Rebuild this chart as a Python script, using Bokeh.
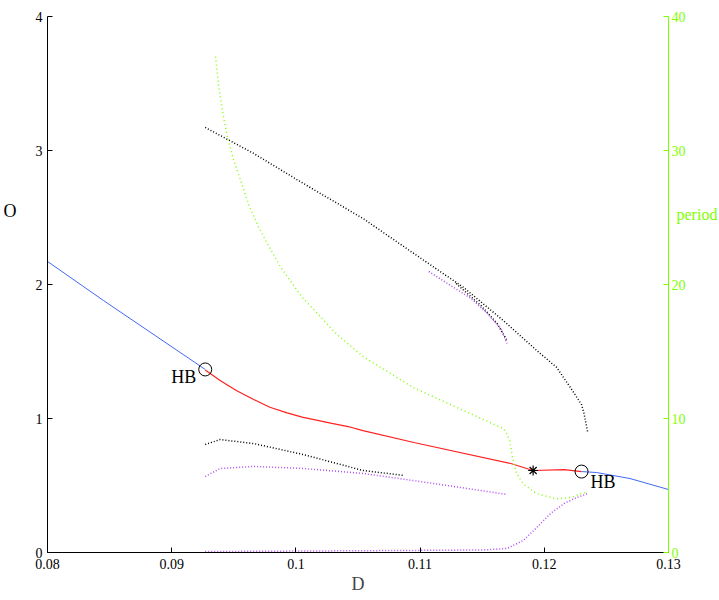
from bokeh.plotting import figure
from bokeh.models import Range1d, LinearAxis, Label, FixedTicker
from bokeh.embed import file_html
from bokeh.resources import INLINE

# ---- data ----
# equilibrium branches
blue1_D = [0.0800, 0.0845, 0.0927]
blue1_O = [2.172, 1.881, 1.366]
red_D = [0.0927, 0.0939, 0.0952, 0.0966, 0.0979, 0.0993, 0.1005, 0.1029, 0.1042, 0.1054,
         0.1095, 0.1173, 0.1191, 0.1216, 0.1230]
red_O = [1.362, 1.284, 1.209, 1.142, 1.084, 1.042, 1.010, 0.963, 0.940, 0.910,
         0.821, 0.664, 0.612, 0.619, 0.604]
blue2_D = [0.1230, 0.1242, 0.1269, 0.1300]
blue2_O = [0.604, 0.597, 0.552, 0.470]

# periodic orbit max/min (black)
blk_up_D = [0.0927, 0.0966, 0.1006, 0.1054, 0.1095, 0.1135, 0.1167, 0.1194, 0.1210, 0.1221, 0.1230, 0.1232, 0.1235]
blk_up_O = [3.172, 2.978, 2.754, 2.493, 2.231, 1.978, 1.731, 1.507, 1.381, 1.231, 1.104, 1.037, 0.896]
blk_up2_D = [0.1129, 0.1149, 0.1162, 0.1170]
blk_up2_O = [2.007, 1.843, 1.709, 1.582]
blk_lo_D = [0.0927, 0.0939, 0.0966, 0.1006, 0.1054, 0.1087]
blk_lo_O = [0.806, 0.843, 0.813, 0.731, 0.612, 0.575]

# periodic orbit (purple)
pur_up_D = [0.1107, 0.1127, 0.1141, 0.1154, 0.1165, 0.1170]
pur_up_O = [2.097, 1.978, 1.896, 1.784, 1.672, 1.560]
pur_mid_D = [0.0927, 0.0939, 0.0966, 0.1006, 0.1054, 0.1111, 0.1170]
pur_mid_O = [0.567, 0.627, 0.642, 0.627, 0.590, 0.515, 0.433]
pur_lo_D = [0.0927, 0.1087, 0.1151, 0.1170, 0.1183, 0.1194, 0.1205, 0.1216, 0.1226, 0.1235]
pur_lo_O = [0.007, 0.015, 0.019, 0.030, 0.090, 0.187, 0.291, 0.366, 0.410, 0.440]

# period (green, right axis)
per_D = [0.09353, 0.09377, 0.09401, 0.09425, 0.09449, 0.09498, 0.09554, 0.09626, 0.09699,
         0.09779, 0.09876, 0.10045, 0.10327, 0.10544, 0.10947, 0.11349, 0.11671, 0.11696,
         0.11720, 0.11744, 0.11776, 0.11833, 0.11937, 0.12098, 0.12211, 0.12300, 0.12348]
per_P = [37.0, 34.9, 33.4, 32.1, 31.0, 29.3, 27.8, 25.8, 24.3,
         22.9, 21.3, 19.1, 16.3, 14.6, 12.3, 10.6, 9.25, 8.9,
         8.4, 7.1, 5.9, 5.1, 4.4, 4.0, 4.1, 4.4, 4.5]

# special points
hb_D = [0.0927, 0.1230]
hb_O = [1.366, 0.604]
star_D = [0.1191]
star_O = [0.612]

x_ticks = [0.08, 0.09, 0.1, 0.11, 0.12, 0.13]
x_tick_labels = ["0.08", "0.09", "0.1", "0.11", "0.12", "0.13"]
y_ticks = [0, 1, 2, 3, 4]
p_ticks = [0, 10, 20, 30, 40]

FONT = "Liberation Serif"
GREEN = "#80ff00"
PURPLE = "#b04cf4"

p = figure(frame_width=621, frame_height=536, output_backend="svg", toolbar_location=None,
           x_range=Range1d(0.08, 0.13), y_range=Range1d(0, 4),
           min_border_left=44, min_border_right=0, min_border_top=16, min_border_bottom=10)
p.outline_line_color = None
p.grid.visible = False
p.background_fill_color = "white"
p.border_fill_color = "white"

def style_axis(ax, color="black", size="14px"):
    ax.major_tick_in = 5
    ax.major_tick_out = 0
    ax.minor_tick_line_color = None
    ax.major_label_text_font = FONT
    ax.major_label_text_font_size = size
    ax.major_label_text_color = color
    ax.axis_line_color = color
    ax.major_tick_line_color = color

style_axis(p.xaxis[0])
style_axis(p.yaxis[0])

p.xaxis.ticker = x_ticks
p.xaxis.major_label_overrides = dict(zip(x_ticks, x_tick_labels))
p.xaxis.major_label_standoff = 6
p.xaxis.axis_label = "D"
p.xaxis.axis_label_text_font = FONT
p.xaxis.axis_label_text_font_style = "normal"
p.xaxis.axis_label_text_font_size = "18px"
p.xaxis.axis_label_standoff = 2
p.yaxis.ticker = y_ticks
p.yaxis.major_label_standoff = 5

# horizontal left label "O" drawn as a lone tick label of an extra axis
o_pos = 2.545
lax = LinearAxis(ticker=FixedTicker(ticks=[o_pos]), major_label_overrides={o_pos: "O"})
lax.axis_line_color = None
lax.major_tick_line_color = None
lax.minor_tick_line_color = None
lax.major_label_text_font = FONT
lax.major_label_text_font_size = "18px"
lax.major_label_text_color = "black"
lax.major_label_standoff = 10
p.add_layout(lax, "left")

p.extra_y_ranges = {"period": Range1d(0, 40)}
rax = LinearAxis(y_range_name="period", ticker=p_ticks)
style_axis(rax, GREEN)
rax.major_label_standoff = 3
p.add_layout(rax, "right")

per_pos = 25.2
rlab = LinearAxis(y_range_name="period", ticker=FixedTicker(ticks=[per_pos]),
                  major_label_overrides={per_pos: "period"})
rlab.axis_line_color = None
rlab.major_tick_line_color = None
rlab.minor_tick_line_color = None
rlab.major_label_text_font = FONT
rlab.major_label_text_font_size = "16px"
rlab.major_label_text_color = GREEN
rlab.major_label_standoff = -18
p.add_layout(rlab, "right")

# branches
p.line(blue1_D, blue1_O, line_color="#4169f5", line_width=1)
p.line(blue2_D, blue2_O, line_color="#4169f5", line_width=1)
p.line(red_D, red_O, line_color="#ff2020", line_width=1.2)

dash = "1 2"
p.line(blk_up_D, blk_up_O, line_color="black", line_width=1.5, line_dash=dash)
p.line(blk_up2_D, blk_up2_O, line_color="black", line_width=1.5, line_dash=dash)
p.line(blk_lo_D, blk_lo_O, line_color="black", line_width=1.5, line_dash=dash)
p.line(pur_up_D, pur_up_O, line_color=PURPLE, line_width=1.5, line_dash=dash)
p.line(pur_mid_D, pur_mid_O, line_color=PURPLE, line_width=1.5, line_dash=dash)
p.line(pur_lo_D, pur_lo_O, line_color=PURPLE, line_width=1.5, line_dash=dash)
p.line(per_D, per_P, y_range_name="period", line_color=GREEN, line_width=1.5, line_dash="1 3")

p.scatter(hb_D, hb_O, marker="circle", size=13, fill_color=None, line_color="black", line_width=1)
p.scatter(star_D, star_O, marker="asterisk", size=10, line_color="black", line_width=1.2)

lbl1 = Label(x=hb_D[0], y=hb_O[0], text="HB", x_offset=-9, y_offset=-18, text_align="right",
             text_font=FONT, text_font_size="18px", text_color="black")
lbl2 = Label(x=hb_D[1], y=hb_O[1], text="HB", x_offset=9, y_offset=-20, text_align="left",
             text_font=FONT, text_font_size="18px", text_color="black")
p.add_layout(lbl1)
p.add_layout(lbl2)

open("out.html", "w").write(file_html(p, INLINE))
